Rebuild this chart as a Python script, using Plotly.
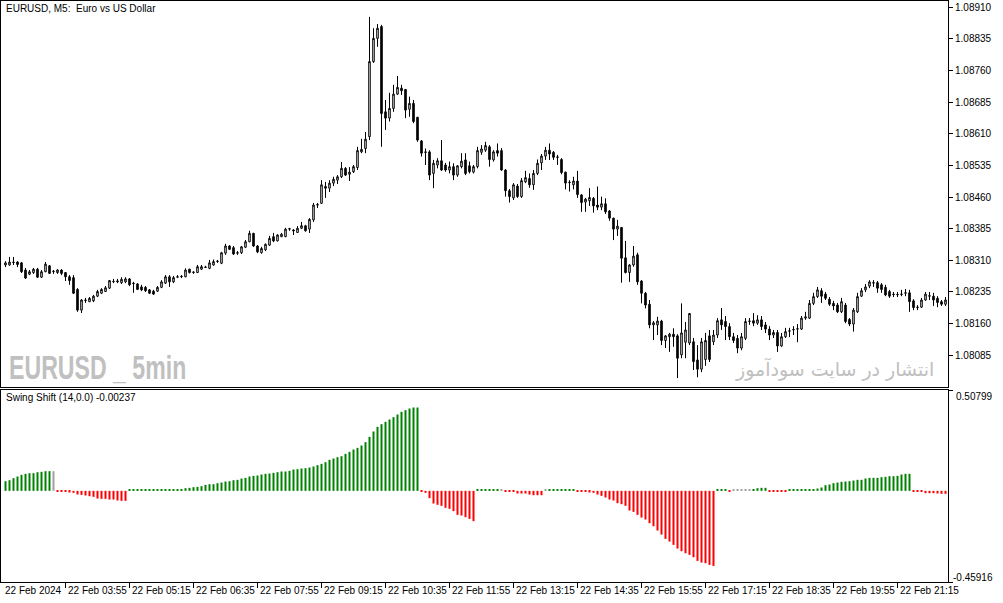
import plotly.graph_objects as go

# ---------------- data ----------------
start_time = "02:40"          # time of the first visible 5-min bar
bar_minutes = 5
date_prefix = "22 Feb"
first_label = "22 Feb 2024"
time_labels = ["03:55", "05:15", "06:35", "07:55", "09:15", "10:35", "11:55",
               "13:15", "14:35", "15:55", "17:15", "18:35", "19:55", "21:15"]

# prices in points (1 point = 0.00001)
open_pts = [
    108299,108299,108306,108306,108304,108287,108277,108281,108289,108270,
    108283,108297,108283,108281,108287,108281,108271,108269,108241,108192,
    108216,108212,108214,108225,108232,108236,108244,108259,108259,108257,
    108259,108266,108256,108254,108247,108246,108240,108237,108237,108246,
    108256,108271,108259,108270,108271,108271,108289,108281,108281,108289,
    108293,108291,108299,108307,108303,108327,108344,108340,108327,108328,
    108341,108354,108374,108344,108328,108335,108346,108366,108356,108366,
    108366,108384,108382,108376,108386,108392,108384,108406,108441,108445,
    108485,108481,108493,108500,108508,108528,108514,108520,108530,108567,
    108575,108603,108781,108836,108864,108662,108647,108670,108704,108718,
    108715,108668,108682,108649,108593,108567,108567,108516,108536,108546,
    108536,108524,108532,108512,108532,108548,108534,108519,108532,108566,
    108571,108579,108548,108570,108570,108524,108475,108458,108486,108461,
    108496,108504,108489,108516,108541,108557,108571,108566,108554,108549,
    108519,108494,108489,108498,108465,108448,108451,108457,108441,108436,
    108444,108427,108410,108384,108388,108316,108281,108299,108323,108261,
    108232,108206,108157,108157,108166,108120,108129,108135,108131,108086,
    108116,108114,108117,108074,108052,108075,108131,108117,108133,108169,
    108165,108153,108129,108125,108102,108125,108165,108167,108161,108169,
    108157,108147,108133,108139,108107,108129,108142,108145,108147,108147,
    108173,108173,108208,108224,108238,108230,108218,108208,108204,108188,
    108204,108170,108159,108188,108225,108240,108249,108256,108257,108252,
    108246,108236,108230,108228,108229,108232,108233,108214,108198,108199,
    108216,108225,108225,108220,108212,108206]
high_pts = [
    108308,108318,108318,108308,108306,108292,108287,108292,108292,108287,
    108306,108299,108287,108289,108289,108282,108275,108275,108244,108218,
    108221,108223,108228,108240,108244,108249,108263,108266,108266,108270,
    108270,108268,108259,108256,108252,108249,108242,108240,108249,108263,
    108275,108275,108273,108275,108275,108291,108290,108284,108299,108299,
    108297,108311,108312,108311,108330,108349,108346,108344,108332,108344,
    108358,108380,108375,108346,108342,108350,108368,108375,108372,108375,
    108387,108387,108384,108391,108401,108394,108410,108446,108446,108500,
    108496,108500,108508,108512,108543,108531,108531,108536,108579,108598,
    108614,108887,108860,108870,108868,108690,108707,108726,108747,108726,
    108716,108698,108690,108650,108595,108575,108571,108548,108552,108595,
    108541,108544,108540,108536,108564,108564,108544,108536,108579,108583,
    108591,108583,108571,108587,108576,108526,108479,108493,108491,108505,
    108522,108516,108524,108549,108562,108579,108587,108569,108560,108552,
    108520,108500,108508,108522,108467,108458,108481,108460,108485,108461,
    108457,108429,108411,108406,108389,108356,108301,108344,108328,108263,
    108235,108216,108166,108176,108169,108133,108138,108149,108135,108208,
    108164,108185,108126,108109,108126,108138,108145,108145,108173,108197,
    108178,108161,108138,108133,108138,108173,108173,108185,108180,108178,
    108164,108154,108145,108145,108138,108150,108150,108154,108159,108178,
    108188,108216,108233,108247,108244,108235,108223,108214,108209,108221,
    108209,108173,108197,108233,108244,108254,108263,108263,108261,108256,
    108252,108240,108235,108235,108240,108242,108240,108218,108204,108221,
    108235,108235,108233,108225,108216,108223]
low_pts = [
    108294,108297,108299,108294,108280,108266,108275,108278,108268,108268,
    108282,108278,108278,108278,108275,108261,108252,108230,108188,108185,
    108209,108211,108211,108223,108230,108235,108242,108256,108256,108254,
    108256,108249,108233,108240,108237,108235,108230,108228,108235,108244,
    108254,108247,108256,108268,108268,108270,108279,108278,108280,108287,
    108292,108289,108297,108304,108301,108323,108335,108323,108323,108325,
    108339,108353,108342,108327,108326,108332,108344,108353,108355,108365,
    108365,108380,108370,108375,108384,108378,108375,108401,108434,108444,
    108458,108472,108486,108491,108505,108510,108498,108517,108524,108564,
    108564,108595,108778,108816,108579,108619,108639,108662,108702,108702,
    108647,108650,108635,108591,108556,108536,108500,108481,108528,108522,
    108520,108516,108500,108508,108528,108512,108516,108516,108528,108560,
    108567,108532,108544,108556,108522,108461,108447,108453,108458,108458,
    108493,108482,108477,108512,108524,108548,108548,108548,108536,108514,
    108478,108473,108478,108458,108425,108425,108439,108423,108429,108429,
    108420,108404,108358,108368,108257,108279,108259,108295,108252,108208,
    108196,108149,108121,108133,108109,108102,108093,108105,108031,108078,
    108078,108109,108050,108033,108045,108060,108069,108109,108126,108145,
    108121,108121,108114,108090,108097,108121,108157,108154,108157,108145,
    108138,108121,108126,108093,108105,108126,108128,108133,108116,108145,
    108169,108171,108204,108221,108209,108216,108202,108192,108185,108185,
    108161,108154,108141,108185,108223,108235,108244,108247,108233,108233,
    108225,108221,108223,108223,108225,108225,108188,108192,108192,108197,
    108214,108216,108202,108199,108202,108202]
close_pts = [
    108304,108306,108305,108300,108283,108268,108283,108289,108270,108283,
    108301,108279,108284,108287,108279,108271,108262,108232,108192,108216,
    108215,108220,108225,108236,108241,108245,108262,108260,108261,108265,
    108266,108252,108255,108241,108240,108238,108232,108230,108246,108259,
    108271,108259,108269,108271,108272,108287,108281,108282,108295,108295,
    108294,108304,108307,108308,108328,108344,108336,108325,108328,108342,
    108354,108374,108344,108330,108338,108348,108362,108356,108370,108372,
    108384,108385,108380,108386,108392,108380,108407,108441,108442,108489,
    108481,108493,108502,108508,108528,108512,108519,108532,108570,108573,
    108597,108781,108836,108860,108658,108647,108670,108704,108720,108712,
    108666,108682,108639,108595,108564,108566,108512,108540,108546,108524,
    108524,108532,108512,108534,108545,108516,108520,108532,108570,108574,
    108582,108549,108567,108564,108524,108475,108461,108489,108461,108499,
    108506,108489,108516,108540,108557,108571,108562,108554,108555,108518,
    108493,108495,108498,108466,108447,108455,108459,108439,108436,108444,
    108425,108410,108384,108391,108315,108281,108299,108320,108259,108232,
    108204,108157,108162,108166,108120,108131,108135,108129,108078,108138,
    108145,108184,108070,108052,108117,108120,108075,108133,108167,108157,
    108153,108129,108120,108102,108129,108165,108166,108161,108169,108153,
    108147,108133,108139,108107,108129,108141,108143,108146,108148,108173,
    108176,108208,108224,108240,108225,108220,108206,108202,108188,108212,
    108165,108159,108192,108224,108238,108247,108259,108257,108244,108241,
    108228,108225,108229,108229,108230,108233,108212,108198,108199,108216,
    108230,108226,108216,108210,108206,108216]

# Swing Shift (14,0.0) histogram values
swing_vals = [
    0.0487,0.0537,0.0638,0.0722,0.0806,0.0856,0.089,0.089,0.094,0.0957,0.0991,0.0991,0.0991,
    -0.005,-0.005,-0.005,-0.0084,-0.0101,-0.0185,-0.0202,-0.0235,-0.0269,-0.0302,-0.0386,
    -0.0403,-0.0403,-0.0437,-0.0437,-0.0487,-0.0504,-0.0504,
    0.005,0.005,0.005,0.005,0.006,0.0084,0.0084,0.0084,0.0084,0.0084,0.0084,0.0084,0.0084,0.0084,
    0.0134,0.0151,0.0185,0.0202,0.0235,0.0302,0.0336,0.0336,0.0386,0.042,0.047,0.0487,0.0537,
    0.0554,0.0621,0.0655,0.0722,0.0756,0.0772,0.0823,0.0856,0.0873,0.0907,0.094,0.0974,0.0974,
    0.1008,0.1075,0.1092,0.1125,0.1142,0.1175,0.1226,0.1293,0.136,0.1444,0.1562,0.1629,0.1696,
    0.1746,0.1864,0.1965,0.2082,0.2166,0.2284,0.2452,0.272,0.2989,0.3224,0.3359,0.3476,0.3594,
    0.3711,0.3846,0.398,0.4064,0.4148,0.4198,0.4198,
    -0.005,-0.0101,-0.0369,-0.0638,-0.0705,-0.0756,-0.0856,-0.0907,-0.1024,-0.1209,-0.1243,
    -0.1327,-0.1411,-0.1528,
    0.005,0.005,0.005,0.005,0.005,0.005,
    0.005,
    -0.005,-0.005,-0.005,
    -0.0134,-0.0134,-0.0134,-0.0185,-0.022,-0.022,-0.022,
    0.005,
    0.005,0.005,0.005,0.005,
    0.006,0.006,0.005,
    -0.005,-0.005,-0.006,-0.0084,-0.0101,-0.0185,-0.0252,-0.0336,-0.0437,-0.0487,-0.0622,
    -0.0672,-0.0756,-0.0992,-0.1059,-0.121,-0.1345,-0.1445,-0.163,-0.1782,-0.2,-0.2202,-0.242,
    -0.2555,-0.2723,-0.2908,-0.3042,-0.3143,-0.3227,-0.3345,-0.3529,-0.3613,-0.3647,-0.3731,
    -0.3782,
    0.005,0.005,0.005,
    -0.005,
    0.005,0.005,0.005,0.005,0.005,
    0.0067,0.0134,0.0151,0.0151,
    -0.005,-0.005,-0.005,-0.005,-0.005,
    0.005,0.005,0.005,0.005,0.005,0.0067,0.0084,0.0118,0.0168,0.0286,0.0319,0.0387,0.042,
    0.0454,0.0471,0.0487,0.0521,0.0555,0.0555,0.0622,0.0655,0.0655,0.0655,0.0689,0.0706,
    0.0739,0.0739,0.0756,0.0824,0.0857,0.0857,
    -0.005,-0.005,-0.005,-0.0118,-0.0118,-0.0118,-0.0134,-0.0151,-0.0151]
neutral_bars = [12, 124, 135, 182, 183, 184, 185, 186]

price_ticks = [1.08910, 1.08835, 1.08760, 1.08685, 1.08610, 1.08535,
               1.08460, 1.08385, 1.08310, 1.08235, 1.08160, 1.08085]
price_range = [1.080098, 1.089246]
ind_top, ind_bottom = 0.50799, -0.45916
ind_caption = "Swing Shift (14,0.0) -0.00237"
chart_title = "EURUSD, M5:\u00a0\u00a0Euro vs US Dollar"
watermark = "EURUSD _ 5min"
persian_text = "انتشار در سایت سودآموز"

# ---------------- build ----------------
N = len(close_pts)
xs = list(range(N))
opens = [v / 1e5 for v in open_pts]
highs = [v / 1e5 for v in high_pts]
lows = [v / 1e5 for v in low_pts]
closes = [v / 1e5 for v in close_pts]


def to_min(t):
    h, m = t.split(":")
    return int(h) * 60 + int(m)


t0 = to_min(start_time)
label_idx = [(to_min(t) - t0) // bar_minutes for t in time_labels]

colors = []
for i, v in enumerate(swing_vals):
    if i in neutral_bars:
        colors.append("#A0A0A0")
    elif v >= 0:
        colors.append("#008000")
    else:
        colors.append("#FF0000")

W, H = 1003, 603
ML, MR, MT, MB = 1, 55, 1, 21
PW = W - ML - MR
PH = H - MT - MB
main_bottom_px = 387
ind_top_px = 390


def pxx(px):
    return (px - ML) / PW


def pxy(py):
    return (H - MB - py) / PH


xr = [(ML - 5.5) / 4.0, (W - MR - 5.5) / 4.0]

fig = go.Figure()
fig.add_trace(go.Candlestick(
    x=xs, open=opens, high=highs, low=lows, close=closes,
    increasing=dict(line=dict(color="black", width=1), fillcolor="white"),
    decreasing=dict(line=dict(color="black", width=1), fillcolor="black"),
    whiskerwidth=0, xaxis="x", yaxis="y", showlegend=False, hoverinfo="skip"))
fig.add_trace(go.Bar(
    x=xs, y=swing_vals, width=0.5, marker=dict(color=colors, line=dict(width=0)),
    xaxis="x2", yaxis="y2", showlegend=False, hoverinfo="skip"))

font_main = "Liberation Sans, Arial, sans-serif"
axis_common = dict(showgrid=False, zeroline=False, showline=True, mirror=True,
                   linecolor="black", linewidth=1)

fig.update_layout(
    width=W, height=H,
    margin=dict(l=ML, r=MR, t=MT, b=MB, pad=0),
    paper_bgcolor="white", plot_bgcolor="white",
    boxgap=0.45,
    font=dict(family=font_main, size=10, color="black"),
    xaxis=dict(domain=[0, 1], range=xr, anchor="y", showticklabels=False, ticks="",
               rangeslider=dict(visible=False), **axis_common),
    yaxis=dict(domain=[pxy(main_bottom_px), 1], range=price_range, side="right",
               anchor="x", tickvals=price_ticks, ticktext=["%.5f" % v for v in price_ticks],
               ticks="outside", ticklen=4, tickcolor="black",
               tickfont=dict(family=font_main, size=10, color="black"), **axis_common),
    xaxis2=dict(domain=[0, 1], range=xr, anchor="y2", tickvals=label_idx,
                showticklabels=False, ticks="outside", ticklen=5, tickcolor="black",
                **axis_common),
    yaxis2=dict(domain=[0, pxy(ind_top_px)], range=[ind_bottom, ind_top], side="right",
                anchor="x2", tickvals=[ind_bottom, ind_top], showticklabels=False,
                ticks="outside", ticklen=4, tickcolor="black", **axis_common),
)

ann = []
# time labels
ann.append(dict(x=0, y=pxy(590), xref="x2", yref="paper", text=first_label,
                showarrow=False, xanchor="left", yanchor="middle", xshift=-2.5,
                font=dict(family=font_main, size=10, color="black")))
for idx, t in zip(label_idx, time_labels):
    ann.append(dict(x=idx, y=pxy(590), xref="x2", yref="paper",
                    text=f"{date_prefix} {t}", showarrow=False, xanchor="left",
                    yanchor="middle", xshift=0.5,
                    font=dict(family=font_main, size=10, color="black")))
# indicator scale labels
ann.append(dict(x=1, y=pxy(396), xref="paper", yref="paper", text="%.5f" % ind_top,
                showarrow=False, xanchor="left", yanchor="middle", xshift=6,
                font=dict(family=font_main, size=10, color="black")))
ann.append(dict(x=1, y=pxy(577), xref="paper", yref="paper", text="%.5f" % ind_bottom,
                showarrow=False, xanchor="left", yanchor="middle", xshift=3,
                font=dict(family=font_main, size=10, color="black")))
# captions
ann.append(dict(x=pxx(4), y=pxy(8), xref="paper", yref="paper", text=chart_title,
                showarrow=False, xanchor="left", yanchor="middle",
                font=dict(family=font_main, size=10, color="black")))
ann.append(dict(x=pxx(4), y=pxy(398), xref="paper", yref="paper", text=ind_caption,
                showarrow=False, xanchor="left", yanchor="middle",
                font=dict(family=font_main, size=10, color="black")))
ann.append(dict(x=pxx(7), y=pxy(367), xref="paper", yref="paper",
                text="<b>" + watermark + "</b>", showarrow=False, xanchor="left",
                yanchor="middle",
                font=dict(family="Liberation Sans, Arial, sans-serif",
                          size=34, color="#C0C0C0")))
ann.append(dict(x=pxx(936), y=pxy(369), xref="paper", yref="paper",
                text=persian_text, showarrow=False, xanchor="right",
                yanchor="middle",
                font=dict(family="DejaVu Sans, Noto Sans, sans-serif", size=19,
                          color="#C0C0C0")))
fig.update_layout(annotations=ann)

post = """
document.body.style.margin='0';
document.body.style.overflow='hidden';
document.querySelectorAll('.annotation-text').forEach(function(t){
  if (t.textContent.indexOf('5min') >= 0) {
    t.style.transformBox = 'fill-box';
    t.style.transformOrigin = '0% 50%';
    t.style.transform = 'scaleX(0.68)';
  }
});
"""

fig.write_html("out.html", post_script=post, config={"displayModeBar": False})
